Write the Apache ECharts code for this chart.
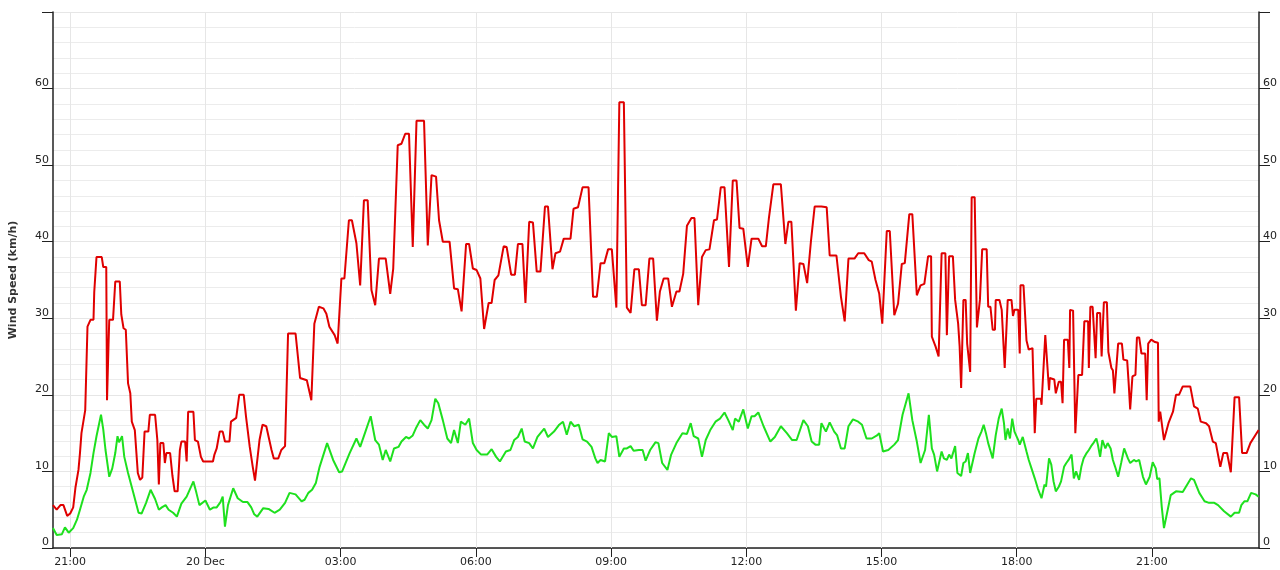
<!DOCTYPE html>
<html><head><meta charset="utf-8">
<script src="https://cdn.jsdelivr.net/npm/echarts@6/dist/echarts.min.js"></script>
<style>html,body{margin:0;padding:0;background:#fff}#chart{width:1280px;height:570px}</style>
</head><body><div id="chart"></div>
<script>
// first day of the record (19 Dec), times roll over to 20 Dec after midnight
const startYear = 2023, startMonth = 11, startDay = 19;
const axisStartTime = ['19', '20:37:06'];
const axisEndTime = ['20', '23:22:30'];
const xTickTimes = [['19','21:00:00'],['20','00:00:00'],['20','03:00:00'],['20','06:00:00'],['20','09:00:00'],['20','12:00:00'],['20','15:00:00'],['20','18:00:00'],['20','21:00:00']];
const yAxisTicks = [0, 10, 20, 30, 40, 50, 60, 70];
const yAxisTitle = 'Wind Speed (km/h)';
const monthNames = ['Jan','Feb','Mar','Apr','May','Jun','Jul','Aug','Sep','Oct','Nov','Dec'];

// gust (red)
const gustSpeed = [
["20:37",5.6],["20:42",5.0],["20:47",5.6],["20:51",5.6],["20:56",4.2],["21:00",4.5],["21:04",5.3],["21:07",7.9],["21:11",10.2],["21:13",12.4],["21:15",15.0],["21:20",18.0],["21:23",28.9],["21:27",29.8],["21:31",29.8],["21:32",33.4],["21:35",38.0],["21:42",38.0],["21:44",36.7],["21:48",36.7],["21:49",19.3],["21:51",26.5],["21:52",29.8],["21:57",29.8],["22:00",34.8],["22:06",34.8],["22:08",30.5],["22:11",28.7],["22:14",28.5],["22:17",21.5],["22:20",20.2],["22:22",16.5],["22:26",15.4],["22:30",9.8],["22:33",8.9],["22:36",9.2],["22:39",15.2],["22:44",15.2],["22:46",17.4],["22:53",17.4],["22:56",14.1],["22:58",8.3],["23:00",13.7],["23:04",13.7],["23:06",11.1],["23:08",12.4],["23:13",12.4],["23:16",9.5],["23:19",7.4],["23:23",7.4],["23:26",12.8],["23:28",13.9],["23:33",13.9],["23:35",11.3],["23:37",17.8],["23:44",17.8],["23:46",14.1],["23:50",13.9],["23:54",11.9],["23:57",11.3],
["00:10",11.3],["00:12",12.2],["00:15",13.0],["00:19",15.2],["00:23",15.2],["00:26",13.9],["00:32",13.9],["00:34",16.5],["00:41",17.0],["00:45",20.0],["00:51",20.0],["00:54",17.2],["00:59",13.2],["01:03",10.6],["01:06",8.8],["01:12",14.1],["01:16",16.1],["01:21",15.9],["01:28",12.8],["01:31",11.7],["01:37",11.7],["01:41",12.8],["01:46",13.3],["01:50",28.0],["02:00",28.0],["02:06",22.2],["02:15",21.9],["02:21",19.3],["02:25",29.3],["02:31",31.5],["02:37",31.3],["02:41",30.6],["02:45",28.9],["02:52",27.8],["02:56",26.7],["03:01",35.2],["03:05",35.2],["03:11",42.8],["03:15",42.8],["03:21",39.8],["03:26",34.3],["03:31",45.4],["03:36",45.4],["03:41",33.7],["03:46",31.7],["03:51",37.8],["04:00",37.8],["04:06",33.2],["04:10",36.5],["04:16",52.6],["04:21",52.8],["04:26",54.1],["04:31",54.1],["04:36",39.3],["04:41",55.8],["04:51",55.8],["04:56",39.5],["05:01",48.7],["05:07",48.5],["05:11",42.8],["05:16",40.0],["05:25",40.0],["05:31",33.9],
["05:36",33.8],["05:41",30.9],["05:47",39.7],["05:51",39.7],["05:56",36.5],["06:01",36.3],["06:06",35.2],["06:11",28.6],["06:17",32.0],["06:21",32.0],["06:25",35.0],["06:30",35.6],["06:37",39.4],["06:41",39.3],["06:47",35.7],["06:52",35.7],["06:56",39.7],["07:02",39.7],["07:06",32.0],["07:11",42.6],["07:16",42.5],["07:21",36.1],["07:26",36.1],["07:32",44.6],["07:36",44.6],["07:42",36.4],["07:46",38.5],["07:52",38.7],["07:57",40.4],["08:06",40.4],["08:10",44.3],["08:16",44.5],["08:22",47.1],["08:30",47.1],["08:36",32.8],["08:41",32.8],["08:46",37.2],["08:51",37.2],["08:56",39.0],["09:01",39.0],["09:07",31.4],["09:11",58.2],["09:17",58.2],["09:21",31.4],["09:26",30.7],["09:31",36.4],["09:37",36.4],["09:41",31.7],["09:46",31.7],["09:51",37.8],["09:56",37.8],["10:01",29.7],
["10:05",33.5],["10:10",35.2],["10:16",35.2],["10:21",31.5],["10:27",33.5],["10:31",33.5],["10:36",35.8],["10:41",42.1],["10:47",43.1],["10:51",43.1],["10:56",31.7],["11:01",38.0],["11:06",38.9],["11:11",39.0],["11:17",42.8],["11:21",42.9],["11:26",47.1],["11:31",47.1],["11:37",36.7],["11:42",48.0],["11:47",48.0],["11:51",41.8],["11:56",41.7],["12:02",36.7],["12:07",40.4],["12:16",40.4],["12:21",39.4],["12:26",39.4],["12:30",43.0],["12:36",47.5],["12:46",47.5],["12:52",39.7],["12:56",42.6],["13:00",42.6],["13:06",31.0],["13:11",37.2],["13:16",37.1],["13:21",34.6],["13:26",40.0],["13:31",44.6],["13:40",44.6],["13:47",44.5],["13:51",38.2],["14:00",38.2],["14:06",32.8],["14:11",29.6],["14:16",37.8],["14:24",37.8],["14:29",38.5],
["14:33",38.5],["14:37",38.5],["14:43",37.6],["14:47",37.4],["14:52",35.0],["14:57",33.2],["15:01",29.3],["15:07",41.4],["15:11",41.4],["15:17",30.4],["15:22",31.9],["15:27",37.1],["15:31",37.2],["15:37",43.6],["15:41",43.6],["15:47",33.0],["15:52",34.3],["15:57",34.5],["16:02",38.1],["16:06",38.1],["16:07",27.6],["16:12",26.3],["16:16",25.0],["16:20",38.5],["16:25",38.5],["16:27",27.8],["16:30",38.1],["16:35",38.1],["16:38",32.4],["16:42",29.3],["16:44",26.3],["16:46",20.9],["16:49",32.4],["16:52",32.4],["16:54",26.7],["16:58",23.0],["17:00",45.8],["17:04",45.8],["17:07",28.8],["17:11",32.4],["17:14",39.0],["17:20",39.0],["17:22",31.5],["17:25",31.5],["17:28",28.5],["17:31",28.5],["17:32",32.4],["17:37",32.4],["17:40",31.1],["17:42",31.1],["17:44",23.5],["17:48",32.4],["17:53",32.4],["17:55",30.3],["17:57",31.1],["18:02",31.1],["18:04",25.4],["18:05",34.3],["18:09",34.3],["18:13",27.1],["18:16",25.9],["18:21",26.1],["18:24",15.0],["18:26",19.5],["18:32",19.5],["18:33",18.7],["18:38",27.8],["18:40",27.8],["18:43",20.6],["18:44",22.2],["18:50",22.0],["18:52",20.2],["18:56",21.7],
["18:59",21.7],["19:01",18.9],["19:03",27.2],["19:08",27.2],["19:10",23.5],["19:11",31.1],["19:15",31.0],["19:18",15.0],["19:22",22.6],["19:27",22.6],["19:30",29.6],["19:35",29.6],["19:36",23.5],["19:38",31.5],["19:41",31.5],["19:45",24.8],["19:47",30.7],["19:51",30.7],["19:53",25.0],["19:56",32.1],["20:00",32.1],["20:02",25.6],["20:06",23.5],["20:08",23.2],["20:10",20.2],["20:12",20.0],["20:15",26.7],["20:20",26.7],["20:22",24.6],["20:27",24.5],["20:29",21.5],["20:31",18.1],["20:34",22.4],["20:38",22.6],["20:40",27.5],["20:43",27.5],["20:46",25.4],["20:51",25.4],["20:53",19.3],["20:55",26.7],["20:59",27.2],["21:04",26.9],["21:08",26.8],["21:09",16.5],["21:11",17.8],["21:16",14.1],["21:22",16.3],["21:28",17.8],["21:32",20.0],["21:36",20.0],["21:41",21.1],["21:51",21.1],["21:56",18.5],["22:01",18.2],["22:05",16.5],["22:12",16.3],["22:16",15.9],["22:21",13.9],["22:25",13.7],["22:31",10.6],["22:35",12.4],["22:40",12.4],["22:45",9.9],["22:50",19.7],["22:56",19.7],["23:00",12.4],["23:06",12.4],["23:11",13.7],["23:18",14.8],["23:22",15.4]
];

// average (green)
const avgSpeed = [
["20:37",2.6],["20:42",1.7],["20:49",1.8],["20:53",2.7],["20:58",2.0],["21:04",2.6],["21:09",3.7],["21:13",5.0],["21:18",6.7],["21:22",7.6],["21:27",9.8],["21:31",12.4],["21:35",14.6],["21:41",17.4],["21:44",15.5],["21:47",12.8],["21:52",9.3],["21:56",10.4],["22:00",12.4],["22:03",14.6],["22:05",13.8],["22:09",14.6],["22:12",11.9],["22:17",9.8],["22:24",7.2],["22:31",4.6],["22:35",4.5],["22:41",5.9],["22:47",7.6],["22:53",6.4],["22:58",5.0],["23:02",5.3],["23:07",5.6],["23:11",5.0],["23:17",4.6],["23:22",4.1],["23:28",5.8],["23:35",6.7],["23:39",7.6],["23:44",8.7],["23:48",7.2],["23:52",5.6],
["00:00",6.2],["00:06",5.0],["00:11",5.3],["00:15",5.3],["00:20",6.0],["00:23",6.7],["00:26",2.8],["00:30",5.6],["00:37",7.8],["00:43",6.5],["00:50",6.0],["00:56",6.0],["01:01",5.3],["01:05",4.4],["01:09",4.1],["01:17",5.2],["01:24",5.1],["01:32",4.6],["01:39",5.0],["01:46",5.9],["01:52",7.2],["02:00",7.0],["02:08",6.1],["02:12",6.3],["02:17",7.2],["02:22",7.6],["02:27",8.5],["02:32",10.6],["02:42",13.7],["02:50",11.5],["02:58",9.9],["03:02",10.0],["03:12",12.4],["03:21",14.3],["03:26",13.2],["03:33",15.2],["03:40",17.2],["03:46",14.1],["03:51",13.5],["03:56",11.5],["04:00",12.8],["04:06",11.3],["04:11",13.0],["04:17",13.2],["04:21",13.9],["04:27",14.5],["04:31",14.3],["04:36",14.7],["04:40",15.6],["04:46",16.7],["04:51",16.1],["04:56",15.6],["05:01",16.7],["05:06",19.5],["05:10",18.9],["05:16",16.7],["05:22",14.3],["05:27",13.7],["05:31",15.4],
["05:36",13.7],["05:40",16.5],["05:46",16.1],["05:51",16.9],["05:56",13.7],["06:01",12.8],["06:07",12.2],["06:15",12.2],["06:21",12.9],["06:27",11.9],["06:32",11.3],["06:40",12.6],["06:46",12.8],["06:51",14.1],["06:56",14.5],["07:01",15.6],["07:05",13.9],["07:11",13.7],["07:16",13.0],["07:22",14.5],["07:31",15.6],["07:36",14.5],["07:44",15.2],["07:51",16.1],["07:56",16.5],["08:01",14.8],["08:06",16.5],["08:11",15.9],["08:17",16.1],["08:22",14.2],["08:28",13.9],["08:34",13.2],["08:39",11.7],["08:42",11.1],["08:46",11.5],["08:52",11.3],["08:57",15.0],["09:01",14.5],["09:07",14.6],["09:11",11.9],["09:17",13.0],["09:21",13.0],["09:26",13.3],["09:30",12.7],["09:37",12.8],["09:42",12.8],["09:46",11.4],["09:52",12.8],["09:59",13.8],
["10:03",13.7],["10:08",11.1],["10:15",10.2],["10:20",12.2],["10:27",13.7],["10:35",15.0],["10:41",14.9],["10:46",16.3],["10:50",14.6],["10:56",14.3],["11:01",11.9],["11:06",14.1],["11:12",15.4],["11:19",16.5],["11:25",16.9],["11:31",17.7],["11:36",16.7],["11:42",15.4],["11:45",16.9],["11:50",16.5],["11:56",18.1],["12:02",15.6],["12:07",17.2],["12:11",17.2],["12:16",17.7],["12:23",15.9],["12:32",13.9],["12:38",14.5],["12:46",15.9],["12:54",15.0],["13:01",14.1],["13:07",14.1],["13:16",16.7],["13:22",15.9],["13:27",13.9],["13:32",13.5],["13:37",13.5],["13:40",16.3],["13:46",15.2],["13:51",16.4],["13:57",15.2],["14:01",14.7],["14:06",13.0],["14:11",13.0],["14:16",15.9],["14:22",16.8],["14:29",16.5],
["14:34",16.1],["14:40",14.3],["14:47",14.3],["14:54",14.7],["14:57",15.0],["15:02",12.6],["15:09",12.8],["15:17",13.5],["15:22",14.1],["15:28",17.4],["15:36",20.2],["15:41",16.7],["15:47",13.9],["15:52",11.1],["15:58",12.8],["16:03",17.4],["16:07",13.0],["16:10",12.2],["16:14",10.0],["16:20",12.6],["16:23",11.7],["16:27",11.5],["16:30",12.2],["16:33",11.7],["16:38",13.3],["16:41",9.8],["16:46",9.4],["16:49",11.1],["16:52",11.3],["16:55",12.4],["16:58",9.8],["17:04",12.4],["17:09",14.3],["17:13",15.2],["17:16",16.1],["17:19",15.0],["17:22",13.7],["17:28",11.7],["17:32",14.7],["17:36",16.9],["17:40",18.2],["17:43",16.3],["17:45",14.1],["17:48",15.6],["17:51",14.3],["17:54",16.9],["17:57",15.2],["18:02",14.1],["18:04",13.5],["18:08",14.5],["18:13",12.6],["18:16",11.5],["18:19",10.6],["18:24",9.1],["18:28",7.8],["18:33",6.5],["18:37",8.3],["18:39",8.0],["18:43",11.7],["18:46",10.9],["18:49",8.7],["18:52",7.4],["18:56",8.0],
["18:59",8.7],["19:03",10.6],["19:06",11.1],["19:09",11.5],["19:13",12.2],["19:16",9.1],["19:19",10.0],["19:23",8.9],["19:26",10.6],["19:29",11.7],["19:33",12.4],["19:36",12.8],["19:39",13.3],["19:42",13.7],["19:46",14.3],["19:48",13.5],["19:51",11.9],["19:54",14.1],["19:58",13.0],["20:01",13.7],["20:05",13.0],["20:08",11.5],["20:11",10.6],["20:15",9.3],["20:19",11.1],["20:23",13.0],["20:28",11.7],["20:31",11.1],["20:36",11.5],["20:39",11.3],["20:43",11.5],["20:48",9.3],["20:52",8.3],["20:57",9.3],["21:01",11.2],["21:05",10.4],["21:07",9.0],["21:10",9.1],["21:13",5.4],["21:16",2.6],["21:21",5.0],["21:25",6.9],["21:32",7.4],["21:41",7.3],["21:47",8.3],["21:52",9.1],["21:56",8.9],["22:03",7.2],["22:10",6.1],["22:16",5.9],["22:23",5.9],["22:28",5.6],["22:36",4.8],["22:45",4.1],["22:50",4.6],["22:56",4.6],["22:59",5.6],["23:03",6.1],["23:07",6.1],["23:12",7.2],["23:18",7.0],["23:22",6.7]
];

function toSeries(list) {
  let day = 0, prev = -1;
  return list.map(([t, v]) => {
    const [h, m] = t.split(':').map(Number);
    const mins = h * 60 + m;
    if (mins < prev) day++;
    prev = mins;
    return [new Date(startYear, startMonth, startDay + day, h, m).getTime(), v];
  });
}
function axisTime([d, t]) {
  const [h, m, s] = t.split(':').map(Number);
  return new Date(startYear, startMonth, Number(d), h, m, s).getTime();
}
const pad = n => (n < 10 ? '0' : '') + n;
const FONT = 'DejaVu Sans';
const xTicks = xTickTimes.map(axisTime);

const yAxisBase = {
  type: 'value', min: yAxisTicks[0], max: yAxisTicks[yAxisTicks.length - 1], interval: yAxisTicks[1] - yAxisTicks[0],
  axisLine: { show: true, lineStyle: { color: '#222', width: 1.5 } },
  axisTick: { show: true, length: 11, lineStyle: { color: '#222', width: 1 } },
  axisLabel: {
    color: '#222', fontFamily: FONT, fontSize: 11, margin: 4, verticalAlign: 'bottom',
    formatter: v => (v === yAxisTicks[yAxisTicks.length - 1] ? '' : String(v))
  }
};

const chart = echarts.init(document.getElementById('chart'), null, { renderer: 'canvas' });
chart.setOption({
  animation: false,
  backgroundColor: '#ffffff',
  grid: { left: 51, right: 18, top: 12, bottom: 22, containLabel: false },
  xAxis: {
    type: 'value',
    min: axisTime(axisStartTime), max: axisTime(axisEndTime),
    axisLine: { lineStyle: { color: '#222', width: 1.5 } },
    axisTick: { show: true, length: 9, customValues: xTicks, lineStyle: { color: '#222', width: 1 } },
    splitLine: { show: false },
    axisLabel: {
      color: '#222', fontFamily: FONT, fontSize: 11, margin: 9, hideOverlap: false,
      customValues: xTicks,
      formatter: function (val) {
        const d = new Date(val);
        if (d.getHours() === 0 && d.getMinutes() === 0) return d.getDate() + ' ' + monthNames[d.getMonth()];
        return pad(d.getHours()) + ':' + pad(d.getMinutes());
      }
    }
  },
  yAxis: [
    Object.assign({}, yAxisBase, {
      position: 'left',
      name: yAxisTitle, nameLocation: 'middle', nameGap: 34,
      nameTextStyle: { color: '#333', fontFamily: FONT, fontSize: 11, fontWeight: 'bold' },
      axisLabel: Object.assign({}, yAxisBase.axisLabel, { align: 'right' }),
      splitLine: { show: true, lineStyle: { color: '#e6e6e6', width: 1 } },
      minorTick: { show: false, splitNumber: 5 },
      minorSplitLine: { show: true, lineStyle: { color: '#ececec', width: 1 } }
    }),
    Object.assign({}, yAxisBase, {
      position: 'right',
      axisLabel: Object.assign({}, yAxisBase.axisLabel, { align: 'left' }),
      splitLine: { show: false }
    })
  ],
  series: [
    {
      name: 'grid', type: 'line', data: [], z: 1, silent: true,
      markLine: {
        z: 1, silent: true, symbol: 'none', animation: false,
        label: { show: false },
        lineStyle: { color: '#e6e6e6', width: 1, type: 'solid' },
        data: xTicks.map(t => ({ xAxis: t }))
      }
    },
    {
      name: 'Gust', type: 'line', data: toSeries(gustSpeed), yAxisIndex: 0, z: 3,
      showSymbol: false, symbol: 'none', lineStyle: { color: '#e00000', width: 2 }, itemStyle: { color: '#e00000' }
    },
    {
      name: 'Average', type: 'line', data: toSeries(avgSpeed), yAxisIndex: 0, z: 3,
      showSymbol: false, symbol: 'none', lineStyle: { color: '#1ee01e', width: 2 }, itemStyle: { color: '#1ee01e' }
    }
  ]
});
</script>
</body></html>
